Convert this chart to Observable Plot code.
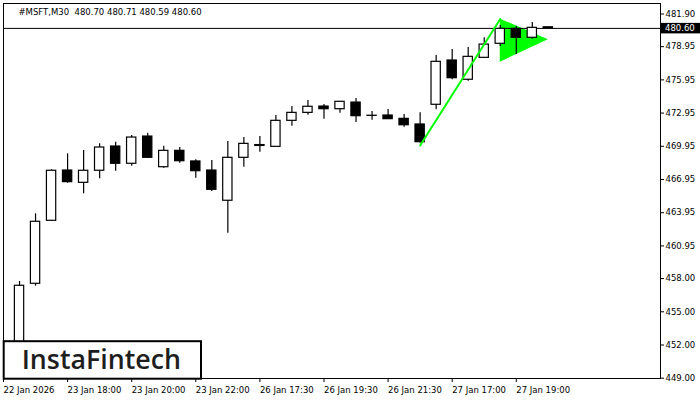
<!DOCTYPE html>
<html><head><meta charset="utf-8">
<script src="https://cdn.jsdelivr.net/npm/d3@7"></script>
<script src="https://cdn.jsdelivr.net/npm/@observablehq/plot@0.6"></script>
<style>
html,body{margin:0;padding:0;background:#fff;}
#chart{position:relative;width:700px;height:400px;}
svg{display:block;}
svg text{white-space:pre;}
</style></head><body><div id="chart"></div>
<script>
const symbol = "#MSFT,M30";
const candleIndex = [0,1,2,3,4,5,6,7,8,9,10,11,12,13,14,15,16,17,18,19,20,21,22,23,24,25,26,27,28,29,30,31,32,33];
const opens  = [448.20,457.53,463.22,467.76,466.65,467.74,469.93,468.37,470.83,468.06,469.54,468.58,467.76,465.03,468.91,469.98,469.90,472.25,472.97,473.54,473.30,473.90,472.70,472.73,472.43,471.92,473.70,477.70,475.96,477.94,479.21,480.56,479.75,480.70];
const highs  = [457.74,463.85,467.83,469.27,469.57,470.17,470.32,470.92,471.13,469.96,469.84,468.73,468.67,470.38,470.74,470.83,472.73,473.54,474.09,473.72,474.00,474.26,473.09,473.27,472.82,472.97,478.15,478.69,478.87,479.75,480.86,480.77,481.13,480.71];
const lows   = [448.00,457.31,463.22,466.62,465.66,467.01,467.70,468.15,468.85,467.97,468.42,467.07,465.87,462.10,468.06,469.42,469.90,471.76,472.76,472.40,472.94,472.10,472.31,472.40,471.67,470.23,473.25,475.96,475.83,477.94,478.96,478.24,479.62,480.59];
const closes = [457.35,463.13,467.74,466.71,467.74,469.84,468.37,470.74,468.91,469.54,468.60,467.70,466.02,468.91,470.17,470.06,472.25,472.97,473.52,473.30,473.97,472.67,472.71,472.40,471.85,470.32,477.58,476.10,478.03,479.14,480.56,479.75,480.65,480.60];
const xTickIndex  = [-1,3,7,11,15,19,23,27,31];
const xTickLabels = ["22 Jan 2026","23 Jan 18:00","23 Jan 20:00","23 Jan 22:00","26 Jan 17:30","26 Jan 19:30","26 Jan 21:30","27 Jan 17:00","27 Jan 19:00"];
const yTicks = [449.00,452.00,455.00,458.00,460.95,463.95,466.95,469.95,472.95,475.95,478.95,481.90];
const poleIndex = [25,30];
const polePrice = [470.02,481.45];
const flagIndex = [30,33];
const flagTop = [481.45,479.57];
const flagBottom = [477.55,479.57];
const logoText = "InstaFintech";

const candles = candleIndex.map((i,k)=>({i, open:opens[k], high:highs[k], low:lows[k], close:closes[k]}));
const pole = poleIndex.map((i,k)=>({i, p:polePrice[k]}));
const flag = flagIndex.map((i,k)=>({i, top:flagTop[k], bottom:flagBottom[k]}));
const last = candles[candles.length-1];
const title = `${symbol}  ${last.open.toFixed(2)} ${last.high.toFixed(2)} ${last.low.toFixed(2)} ${last.close.toFixed(2)}`;

const chart = Plot.plot({
  width:700, height:400,
  marginTop:3, marginRight:40, marginBottom:22, marginLeft:3,
  style:{fontFamily:"'DejaVu Sans'", fontSize:"8.5px", color:"#000", background:"#fff", overflow:"visible"},
  x:{domain:[-1,40], axis:null, label:null},
  y:{domain:[448.973,482.849], axis:null, label:null},
  color:{type:"identity"},
  marks:[
    Plot.areaY(flag,{x:"i", y1:"bottom", y2:"top", fill:"#00ff00", curve:"linear"}),
    Plot.ruleY([last.close],{stroke:"#000"}),
    Plot.ruleX(candles,{x:"i", y1:"low", y2:"high", stroke:"#000", strokeWidth:1.2, clip:true}),
    Plot.rect(candles,{x1:d=>d.i-0.29, x2:d=>d.i+0.29, y1:"open", y2:"close",
      fill:d=>d.close>=d.open?"#fff":"#000", stroke:"#000", strokeWidth:1.2, clip:true}),
    Plot.line(pole,{x:"i", y:"p", stroke:"#00ff00", strokeWidth:2}),
    Plot.frame({stroke:"#000"}),
    Plot.axisY({anchor:"right", label:null, ticks:yTicks, tickFormat:d=>d.toFixed(2), tickSize:3, tickPadding:2}),
    Plot.axisX({anchor:"bottom", label:null, ticks:xTickIndex, tickFormat:d=>xTickLabels[xTickIndex.indexOf(d)], tickSize:4, tickPadding:4, textAnchor:"start"}),
    Plot.text([title],{frameAnchor:"top-left", dx:15, dy:11, lineAnchor:"bottom", textAnchor:"start", fill:"#000"})
  ]
});
document.getElementById("chart").appendChild(chart);

const svg = d3.select(chart);
const yS = chart.scale("y");
const yy = yS.apply(last.close);
const lab = svg.append("g");
lab.append("rect").attr("x",661).attr("y",yy-5).attr("width",39).attr("height",10.5).attr("fill","#000");
lab.append("text").attr("x",665).attr("y",yy).attr("dy","0.32em").attr("fill","#fff")
  .attr("text-anchor","start").style("font","8.5px 'DejaVu Sans'").text(last.close.toFixed(2));

const logo = svg.append("g");
logo.append("rect").attr("x",3.7).attr("y",341.2).attr("width",197.3).attr("height",37.5)
  .attr("fill","#fff").attr("stroke","#000").attr("stroke-width",2);
logo.append("text").attr("x",21.7).attr("y",369).attr("text-anchor","start")
  .attr("textLength",159.3).attr("lengthAdjust","spacingAndGlyphs")
  .style("font","600 27px 'Open Sans'").attr("fill","#1e1e1e").text(logoText);
</script></body></html>
